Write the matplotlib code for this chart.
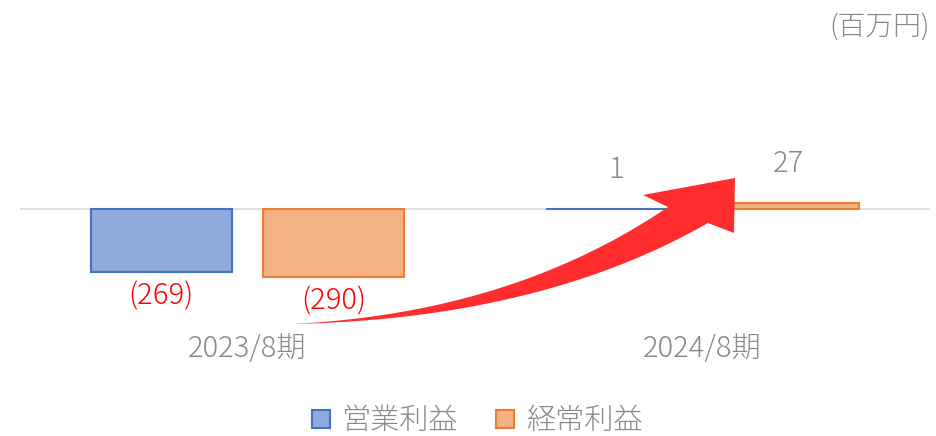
import numpy as np
import matplotlib
matplotlib.use("Agg")
import matplotlib.pyplot as plt
import matplotlib.transforms as mtransforms
from matplotlib.patches import Rectangle, Polygon

plt.rcParams['font.family'] = ['Noto Sans CJK JP', 'DejaVu Sans']
plt.rcParams['font.weight'] = 'light'

categories = ["2023/8期", "2024/8期"]
series_names = ["営業利益", "経常利益"]
operating = [-269, 1]
ordinary = [-290, 27]
label_texts_op = ["(269)", "1"]
label_texts_ord = ["(290)", "27"]

W, H = 937, 436
fig = plt.figure(figsize=(W / 100, H / 100), dpi=100)
ax = fig.add_axes([20 / W, 1 - 330 / H, 910 / W, 230 / H])

blue_fc, blue_ec = "#8FAADC", "#4472C4"
orange_fc, orange_ec = "#F4B183", "#ED7D31"
gray = "#898989"
FS = 21

x = np.arange(len(categories))
bw = 0.31
off = 0.19
b1 = ax.bar(x - off, operating, bw, color=blue_fc, edgecolor=blue_ec, linewidth=1.5, zorder=2)
b2 = ax.bar(x + off, ordinary, bw, color=orange_fc, edgecolor=orange_ec, linewidth=1.5, zorder=2)
ax.axhline(0, color="#d9d9d9", linewidth=1.2, zorder=1)

ax.set_xlim(-0.5, 1.5)
ax.set_ylim(-517, 466)
for s in ax.spines.values():
    s.set_visible(False)
ax.set_yticks([])
ax.set_xticks([])

trans = mtransforms.blended_transform_factory(ax.transData, fig.transFigure)
for xi, c in zip(x, categories):
    ax.text(xi, 1 - 349 / H, c, transform=trans, ha='center', va='center',
            fontsize=FS, color=gray)

for bars, vals, txts in [(b1, operating, label_texts_op), (b2, ordinary, label_texts_ord)]:
    for b, v, t in zip(bars, vals, txts):
        cx = b.get_x() + b.get_width() / 2
        if v < 0:
            ax.annotate(t, (cx, v), xytext=(0, -24), textcoords='offset pixels',
                        ha='center', va='center', fontsize=FS, color="#FF0000")
        else:
            ax.annotate(t, (cx, v), xytext=(0, 39), textcoords='offset pixels',
                        ha='center', va='center', fontsize=FS, color=gray)

fig.text(930 / W, 1 - 27 / H, "(百万円)", ha='right', va='center', fontsize=20, color=gray)

handles = [Rectangle((0, 0), 1, 1, facecolor=blue_fc, edgecolor=blue_ec, linewidth=1.5),
           Rectangle((0, 0), 1, 1, facecolor=orange_fc, edgecolor=orange_ec, linewidth=1.5)]
leg = fig.legend(handles, series_names, loc='center', bbox_to_anchor=(477 / W, 1 - 421 / H),
                 ncol=2, frameon=False, fontsize=FS, handlelength=0.62, handleheight=0.62,
                 handletextpad=0.4, columnspacing=1.3)
for t in leg.get_texts():
    t.set_color(gray)

# curved red arrow (decoration) in figure pixel coordinates
def qbez(p0, p1, p2, n=80):
    t = np.linspace(0, 1, n)[:, None]
    return (1 - t) ** 2 * np.array(p0) + 2 * (1 - t) * t * np.array(p1) + t ** 2 * np.array(p2)

tail = (292, 324)
upper = qbez(tail, (512, 313), (668, 207))
lower = qbez(tail, (540, 319), (708, 223))
head = np.array([(643, 195), (735, 178), (734, 233)])
poly = np.vstack([upper, head, lower[::-1]])
poly_fig = np.column_stack([poly[:, 0] / W, 1 - poly[:, 1] / H])
fig.patches.append(Polygon(poly_fig, closed=True, transform=fig.transFigure,
                           facecolor="#FF2D2D", edgecolor="none", zorder=5))

fig.savefig("out.png", dpi=100)
